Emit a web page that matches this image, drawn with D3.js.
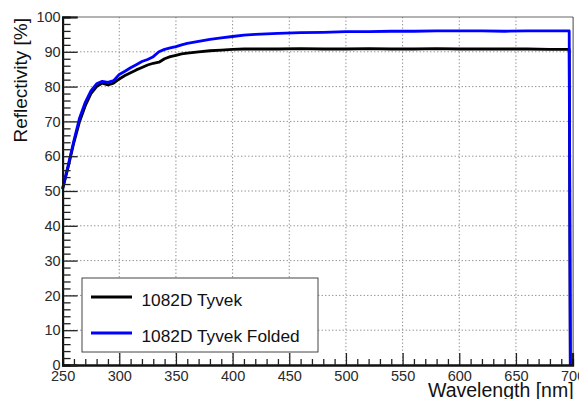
<!DOCTYPE html>
<html><head><meta charset="utf-8">
<script src="https://cdn.jsdelivr.net/npm/d3@7"></script>
<style>
body{margin:0;background:#fff;}
text{font-family:"Liberation Sans",Arial,sans-serif;}
</style></head>
<body><svg id="c" width="579" height="399"></svg>
<script>
// Data
const wlTyvek = [250,255,260,265,270,275,280,285,290,295,300,305,310,315,320,325,330,335,340,345,350,355,360,370,380,390,400,410,420,440,460,480,500,520,540,560,580,600,620,640,660,680,697,698];
const rTyvek  = [50.5,57.0,64.0,70.0,74.5,78.0,80.0,81.0,80.5,81.0,82.2,83.2,84.0,84.8,85.5,86.2,86.7,87.0,88.0,88.6,89.0,89.4,89.6,90.0,90.3,90.5,90.7,90.8,90.8,90.8,90.9,90.8,90.8,90.9,90.8,90.8,90.9,90.8,90.8,90.8,90.8,90.7,90.7,0];
const wlFolded = [250,255,260,265,270,275,280,285,290,295,300,305,310,315,320,325,330,335,340,345,350,355,360,370,380,390,400,410,420,440,460,480,500,520,540,560,580,600,620,640,660,680,697,698];
const rFolded  = [50.8,57.5,64.5,71.0,75.5,78.8,80.8,81.5,81.2,81.7,83.5,84.4,85.4,86.3,87.2,87.8,88.6,90.0,90.7,91.1,91.5,92.0,92.4,93.0,93.6,94.0,94.4,94.8,95.0,95.3,95.5,95.6,95.8,95.8,95.9,95.9,96.0,96.0,96.0,95.9,96.0,96.0,96.0,0];
const seriesNames = ["1082D Tyvek","1082D Tyvek Folded"];
const seriesColors = ["#000000","#0000ff"];
const xTicks = [250,300,350,400,450,500,550,600,650,700];
const yTicks = [0,10,20,30,40,50,60,70,80,90,100];
const xTitle = "Wavelength [nm]";
const yTitle = "Reflectivity [%]";

const svg = d3.select("#c");
const L=62.6, R=572.6, T=17, B=365;
const x = d3.scaleLinear().domain([250,700]).range([L,R]);
const y = d3.scaleLinear().domain([0,100]).range([B,T]);

// grid
const g = svg.append("g");
g.selectAll(".gx").data(xTicks.slice(1,-1)).join("line")
  .attr("x1",d=>x(d)).attr("x2",d=>x(d)).attr("y1",T).attr("y2",B)
  .attr("stroke","#8a8a8a").attr("stroke-width",1).attr("stroke-dasharray","1.3,2.2");
g.selectAll(".gy").data(yTicks.slice(1,-1)).join("line")
  .attr("y1",d=>y(d)).attr("y2",d=>y(d)).attr("x1",L).attr("x2",R)
  .attr("stroke","#8a8a8a").attr("stroke-width",1).attr("stroke-dasharray","1.3,2.2");

// frame top/right
svg.append("line").attr("x1",L).attr("x2",R+0.5).attr("y1",T).attr("y2",T).attr("stroke","#666").attr("stroke-width",1);
svg.append("line").attr("x1",R+0.5).attr("x2",R+0.5).attr("y1",T).attr("y2",B).attr("stroke","#444").attr("stroke-width",1);

// curves
const line = d3.line().x(d=>x(d[0])).y(d=>y(d[1]));
const dataSets = [d3.zip(wlTyvek,rTyvek), d3.zip(wlFolded,rFolded)];
dataSets.forEach((ds,i)=>{
  svg.append("path").datum(ds).attr("d",line).attr("fill","none")
    .attr("stroke",seriesColors[i]).attr("stroke-width",2.8).attr("stroke-linejoin","round");
});

// axes
const minorX = d3.range(250,701,10).filter(v=>v%50!==0);
const minorY = d3.range(0,101,2).filter(v=>v%10!==0);
const xAxis = svg.append("g").attr("transform",`translate(0,${B})`)
  .call(d3.axisBottom(x).tickValues(xTicks).tickSize(-12).tickPadding(5).tickFormat(d3.format("d")));
svg.append("g").attr("transform",`translate(0,${B})`)
  .call(d3.axisBottom(x).tickValues(minorX).tickSize(-6).tickFormat(""));
const yAxis = svg.append("g").attr("transform",`translate(${L},0)`)
  .call(d3.axisLeft(y).tickValues(yTicks).tickSize(-15).tickPadding(3).tickFormat(d3.format("d")));
svg.append("g").attr("transform",`translate(${L},0)`)
  .call(d3.axisLeft(y).tickValues(minorY).tickSize(-8).tickFormat(""));
svg.selectAll(".domain").attr("stroke","#111").attr("stroke-width",2);
svg.selectAll(".tick line").attr("stroke","#222").attr("stroke-width",1.3);
svg.selectAll(".tick text").attr("fill","#2a2a2a").style("font-size","14.5px");
xAxis.selectAll(".tick text").attr("dy","0.71em").attr("y",6);
yAxis.selectAll(".tick text").attr("x",-2);

// titles
svg.append("text").attr("x",R+1).attr("y",397).attr("text-anchor","end")
  .style("font-size","19.5px").attr("fill","#111").text(xTitle);
svg.append("text").attr("transform","translate(27,18) rotate(-90)").attr("text-anchor","end")
  .style("font-size","19px").attr("fill","#111").text(yTitle);

// legend
const lg = svg.append("g");
lg.append("rect").attr("x",82).attr("y",278).attr("width",236).attr("height",74)
  .attr("fill","#fff").attr("stroke","#444").attr("stroke-width",1);
const ly = [297, 333];
seriesNames.forEach((n,i)=>{
  lg.append("line").attr("x1",91).attr("x2",132).attr("y1",ly[i]).attr("y2",ly[i])
    .attr("stroke",seriesColors[i]).attr("stroke-width",2.8);
  lg.append("text").attr("x",141.5).attr("y",ly[i]+9).style("font-size","17.3px").attr("fill","#111").text(n);
});
</script></body></html>
